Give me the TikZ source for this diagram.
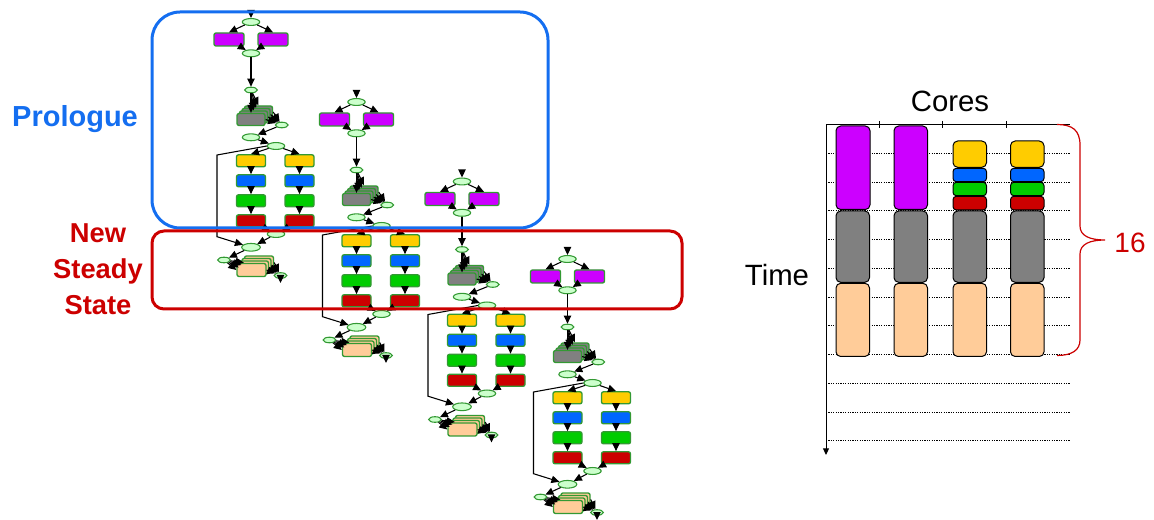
\documentclass[tikz,border=0pt]{standalone}
\usepackage{fontspec}
\setmainfont{Liberation Sans}
\usetikzlibrary{shapes.geometric,arrows.meta}
\definecolor{cpur}{RGB}{204,0,255}
\definecolor{cyel}{RGB}{255,204,0}
\definecolor{cblu}{RGB}{0,102,255}
\definecolor{cgrn}{RGB}{0,204,0}
\definecolor{cred}{RGB}{204,0,0}
\definecolor{cgray}{RGB}{128,128,128}
\definecolor{cpeach}{RGB}{255,204,153}
\definecolor{gbord}{RGB}{51,153,51}
\definecolor{lgreen}{RGB}{204,255,204}
\definecolor{frblue}{RGB}{20,110,240}
\definecolor{frred}{RGB}{204,0,0}
\newcommand{\stagegraph}[3]{%
\begin{scope}[shift={(#2,#3)}]
\coordinate (#1in) at (0,-11);
\node[bell] (#1t) at (0,0) {};
\node[pbox] (#1pl) at (-22,17.5) {};
\node[pbox] (#1pr) at (22,17.5) {};
\node[bell] (#1j) at (0,31.3) {};
\node[sell] (#1s1) at (0,68) {};
\foreach \k in {3,2,1,0} {\node[gst] (#1g\k) at ({2.5*\k},{97.5-2.5*\k}) {};}
\node[sell] (#1s2) at (30.7,103) {};
\node[bell] (#1e1) at (0,115.3) {};
\node[bell] (#1e2) at (25,124) {};
\node[cbox,fill=cyel] (#1yl) at (0,138.8) {};
\node[cbox,fill=cyel] (#1yr) at (48.5,138.8) {};
\node[cbox,fill=cblu] (#1bl) at (0,158.8) {};
\node[cbox,fill=cblu] (#1br) at (48.5,158.8) {};
\node[cbox,fill=cgrn] (#1gl) at (0,178.8) {};
\node[cbox,fill=cgrn] (#1gr) at (48.5,178.8) {};
\node[cbox,fill=cred] (#1rl) at (0,198.8) {};
\node[cbox,fill=cred] (#1rr) at (48.5,198.8) {};
\node[bell] (#1e3) at (25,212) {};
\node[bigell] (#1e4) at (0,225.3) {};
\coordinate (#1ba) at (-34,133);
\coordinate (#1bb) at (-34,214.7);
\node[sell] (#1sl) at (-27,238) {};
\foreach \k in {3,2,1,0} {\node[pst] (#1p\k) at ({0.5+2.5*\k},{248-2.5*\k}) {};}
\node[sell] (#1sr) at (29.5,253.5) {};
\coordinate (#1out) at (29.5,261);
\draw[arr] (#1in) -- (#1t);
\draw[arr] (#1t) -- (#1pl.north);
\draw[arr] (#1t) -- (#1pr.north);
\draw[arr] (#1pl) -- (#1j);
\draw[arr] (#1pr) -- (#1j);
\draw[arr] (#1j) -- (#1s1);
\foreach \k in {0,1,2,3} {\draw[arr] (#1s1) -- (#1g\k.north);}
\foreach \k in {0,1,2,3} {\draw[arr] (#1g\k.east) -- (#1s2);}
\draw[arr] (#1s2) -- (#1e1);
\draw[arr] (#1e1) -- (#1e2);
\draw[arr] (#1e2) -- (#1yl.north);
\draw[arr] (#1e2) -- (#1yr.north);
\draw[arr] (#1e2.west) -- (#1ba) -- (#1bb) -- (#1e4);
\draw[arr] (#1yl) -- (#1bl);
\draw[arr] (#1bl) -- (#1gl);
\draw[arr] (#1gl) -- (#1rl);
\draw[arr] (#1yr) -- (#1br);
\draw[arr] (#1br) -- (#1gr);
\draw[arr] (#1gr) -- (#1rr);
\draw[arr] (#1rl) -- (#1e3);
\draw[arr] (#1rr) -- (#1e3);
\draw[arr] (#1e3) -- (#1e4);
\draw[arr] (#1e4) -- (#1sl);
\foreach \k in {0,1,2,3} {\draw[arr] (#1sl) -- (#1p\k.west);}
\foreach \k in {0,1,2,3} {\draw[arr] (#1p\k.east) -- (#1sr);}
\draw[arr] (#1sr) -- (#1out);
\end{scope}}
\begin{document}
\begin{tikzpicture}[x=0.75pt,y=-0.75pt,
 gb/.style={draw=gbord, line width=1pt, rounded corners=1.5pt, inner sep=0pt},
 pbox/.style={gb, fill=cpur, minimum width=22.5pt, minimum height=9.75pt},
 cbox/.style={gb, minimum width=21.75pt, minimum height=9pt},
 gst/.style={gb, fill=cgray, minimum width=21pt, minimum height=9pt},
 pst/.style={gb, fill=cpeach, minimum width=21.75pt, minimum height=9.75pt},
 bell/.style={ellipse, draw=gbord, fill=lgreen, line width=0.8pt, minimum width=13pt, minimum height=5.2pt, inner sep=0pt},
 bigell/.style={bell, minimum width=14pt, minimum height=5.8pt},
 sell/.style={bell, minimum width=9.5pt, minimum height=4.2pt},
 arr/.style={-{Triangle[length=6pt,width=5.5pt]}, line width=0.8pt},
 col/.style={draw=black, line width=0.75pt, rounded corners=3.5pt},
 scol/.style={draw=black, line width=0.75pt, rounded corners=2.5pt},
 gridl/.style={line width=0.6pt, dash pattern=on 0.9pt off 0.9pt},
 lbl/.style={inner sep=0pt},
]
\useasboundingbox (0,0) rectangle (1154,520);
% pipeline stages
\stagegraph{a}{251}{22}
\stagegraph{b}{356.5}{102}
\stagegraph{c}{462}{181.5}
\stagegraph{d}{567.5}{259}
% frames
\draw[frblue, line width=2.25pt, rounded corners=21pt] (152,12) rectangle (548,228);
\draw[frred, line width=2.25pt, rounded corners=9pt] (152,231) rectangle (682,309);
% labels
\node[lbl, font=\fontsize{21.75}{26}\selectfont\bfseries, text=frblue] (prologue) at (75,119) {Prologue};
\node[lbl, font=\fontsize{20.5}{27}\selectfont\bfseries, text=frred, align=center] (newss) at (98,269) {New\\Steady\\State};
% chart
\foreach \i in {0,...,10} {\draw[gridl] (826,{153.3+28.75*\i}) -- (1070,{153.3+28.75*\i});}
\draw[line width=0.75pt] (826,124.5) -- (1070,124.5);
\foreach \x in {879.3,942.7,1006} {\draw[line width=0.75pt] (\x,121) -- (\x,128);}
\draw[line width=0.75pt, -{Triangle[length=5pt,width=4.5pt]}] (826,124.5) -- (826,455);
% columns
\draw[col, fill=cpur] (836,126) rectangle (870,209.5);
\draw[col, fill=cpur] (894,126) rectangle (927.5,209.5);
\foreach \x in {953,1010.5} {
 \draw[col, fill=cyel] (\x,141) rectangle (\x+33.5,167.3);
 \draw[scol, fill=cblu] (\x,168.3) rectangle (\x+33.5,181.7);
 \draw[scol, fill=cgrn] (\x,182.3) rectangle (\x+33.5,195.7);
 \draw[scol, fill=cred] (\x,196.3) rectangle (\x+33.5,210);
}
\foreach \x in {836,894,953,1010.5} {
 \draw[col, fill=cgray] (\x,211) rectangle (\x+33.5,282.3);
 \draw[col, fill=cpeach] (\x,283.3) rectangle (\x+33.5,356.5);
}
% brace
\draw[frred, line width=0.9pt] (1057,124.5) .. controls (1072,124.5) and (1080,130) .. (1080,145) -- (1080,226) .. controls (1080,236) and (1090,240) .. (1105,240) .. controls (1090,240) and (1080,244) .. (1080,254) -- (1080,340) .. controls (1080,350) and (1072,355.5) .. (1057,355.5);
\node[lbl, font=\fontsize{22}{26}\selectfont] (cores) at (950,101) {Cores};
\node[lbl, font=\fontsize{22}{26}\selectfont] (time) at (777,275) {Time};
\node[lbl, font=\fontsize{21}{26}\selectfont, text=frred] (sixteen) at (1130,243) {16};
\end{tikzpicture}
\end{document}
